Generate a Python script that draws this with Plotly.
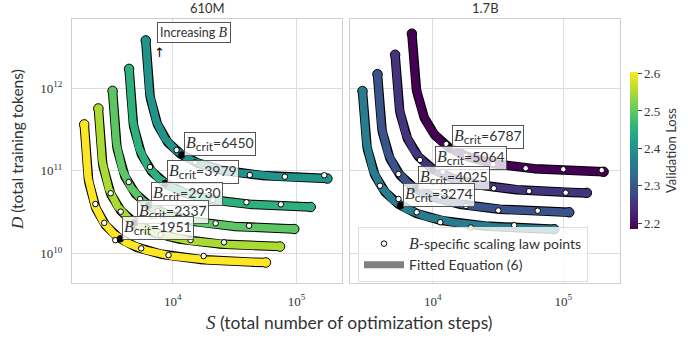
import numpy as np
import plotly.graph_objects as go
from plotly.colors import sample_colorscale

SEQ_LEN = 2048  # tokens per sequence: D = B * S * SEQ_LEN

# ---- 610M: fitted Equation (6) parameters per loss level ----
b_crit_610m = [1951, 2337, 2930, 3979, 6450]
s_min_610m = [1883, 2450, 3190, 4338, 5915]
loss_610m = [2.604, 2.550, 2.495, 2.449, 2.400]
# B-specific scaling-law points (S, D)
pts_s_610m = [
    [2366, 2790, 3428, 5546, 9230, 17740],
    [3146, 3790, 7993, 13910, 25900],
    [4399, 5443, 7516, 22180, 41290],
    [6535, 21090, 39340, 74640],
    [10715, 15080, 41830, 80380, 167400],
]
pts_d_610m = [
    [3.97e10, 2.35e10, 1.45e10, 1.155e10, 9.57e9, 9.33e9],
    [5.36e10, 3.21e10, 1.689e10, 1.457e10, 1.366e10],
    [7.34e10, 4.57e10, 3.27e10, 2.32e10, 2.17e10],
    [1.115e11, 4.44e10, 4.17e10, 3.94e10],
    [1.79e11, 1.271e11, 8.92e10, 8.51e10, 8.85e10],
]

# ---- 1.7B ----
b_crit_17b = [3274, 4025, 5064, 6787]
s_min_17b = [2840, 3700, 5050, 6785]
loss_17b = [2.361, 2.294, 2.248, 2.185]
pts_s_17b = [
    [3949, 5472, 7542, 11435, 19570, 42070],
    [5472, 11375, 17990, 31790, 63680],
    [7993, 11930, 17830, 29360, 54630, 104300],
    [12710, 17990, 28950, 51530, 100000, 196800],
]
pts_d_17b = [
    [6.62e10, 4.57e10, 3.16e10, 2.39e10, 2.065e10, 2.20e10],
    [9.17e10, 4.87e10, 3.76e10, 3.32e10, 3.30e10],
    [1.355e11, 9.78e10, 7.40e10, 6.16e10, 5.68e10, 5.45e10],
    [2.117e11, 1.515e11, 1.205e11, 1.075e11, 1.046e11, 1.02e11],
]

panel_titles = ["610M", "1.7B"]
cbar_ticks = [2.2, 2.3, 2.4, 2.5, 2.6]
x_ticks = [1e4, 1e5]
x_ticktext = ["10<sup>4</sup>", "10<sup>5</sup>"]
y_ticks = [1e10, 1e11, 1e12]
y_ticktext = ["10<sup>10</sup>", "10<sup>11</sup>", "10<sup>12</sup>"]

# range of S / S_min over which the fitted curve is drawn
R_LO, R_HI = 1.021, 30.0

all_loss = loss_610m + loss_17b
CMIN, CMAX = min(all_loss), max(all_loss)

SANS = "Lato"
SERIF = "Liberation Serif"
TXT = "#333333"


def loss_color(v):
    t = (v - CMIN) / (CMAX - CMIN)
    return sample_colorscale("Viridis", [t])[0]


def fitted_curve(s_min, b_crit):
    d_min = s_min * b_crit * SEQ_LEN
    r = np.logspace(np.log10(R_LO), np.log10(R_HI), 300)
    s = s_min * r
    d = d_min * r / (r - 1.0)
    return s, d, d_min


def ital(ch, size=None):
    sz = f";font-size:{size}px" if size else ""
    return f"<i><span style='font-family:{SERIF}{sz}'>{ch}</span></i>"


fig = go.Figure()
annotations = []

panels = [
    ("x", "y", b_crit_610m, s_min_610m, loss_610m, pts_s_610m, pts_d_610m),
    ("x2", "y2", b_crit_17b, s_min_17b, loss_17b, pts_s_17b, pts_d_17b),
]

for xa, ya, bcs, smins, losses, ps, pd_ in panels:
    curves = [fitted_curve(sm, bc) for sm, bc in zip(smins, bcs)]
    # black outline underneath each fitted curve
    for s, d, _ in curves:
        fig.add_trace(go.Scatter(x=s, y=d, mode="lines", xaxis=xa, yaxis=ya,
                                 line=dict(color="black", width=9.5),
                                 showlegend=False, hoverinfo="skip"))
    for (s, d, _), lv in zip(curves, losses):
        col = loss_color(lv)
        # rounded ends
        fig.add_trace(go.Scatter(x=[s[0], s[-1]], y=[d[0], d[-1]], mode="markers",
                                 xaxis=xa, yaxis=ya,
                                 marker=dict(color=col, size=9.5,
                                             line=dict(color="black", width=1)),
                                 showlegend=False, hoverinfo="skip"))
        fig.add_trace(go.Scatter(x=s, y=d, mode="lines", xaxis=xa, yaxis=ya,
                                 line=dict(color=col, width=7.5),
                                 showlegend=False, hoverinfo="skip"))
    # measured points
    for sx, dy in zip(ps, pd_):
        fig.add_trace(go.Scatter(x=sx, y=dy, mode="markers", xaxis=xa, yaxis=ya,
                                 marker=dict(color="white", size=5.5,
                                             line=dict(color="black", width=1)),
                                 showlegend=False, hoverinfo="skip"))
    # B_crit points at (2 S_min, 2 D_min)
    crit_s = [2 * sm for sm in smins]
    crit_d = [2 * c[2] for c in curves]
    fig.add_trace(go.Scatter(x=crit_s, y=crit_d, mode="markers", xaxis=xa, yaxis=ya,
                             marker=dict(color="black", size=6.5,
                                         line=dict(color="black", width=1)),
                             showlegend=False, hoverinfo="skip"))
    # labels, largest B first so lower ones sit on top
    order = sorted(range(len(bcs)), key=lambda i: -bcs[i])
    for i in order:
        annotations.append(dict(
            x=np.log10(crit_s[i]), y=np.log10(crit_d[i]), xref=xa, yref=ya,
            xanchor="left", yanchor="bottom", xshift=2, yshift=-1,
            text=(f"{ital('B', 16)}<sub><span style='font-size:12px'>crit</span></sub>"
                  f"={bcs[i]}"),
            showarrow=False, font=dict(family=SANS, size=14, color=TXT),
            bgcolor="rgba(255,255,255,0.8)", bordercolor="#555555", borderwidth=1,
            borderpad=1))

# legend entries
fig.add_trace(go.Scatter(x=[None], y=[None], mode="markers", xaxis="x2", yaxis="y2",
                         marker=dict(color="white", size=5.5, line=dict(color="black", width=1)),
                         name=f"{ital('B', 16)}-specific scaling law points"))
fig.add_trace(go.Scatter(x=[None], y=[None], mode="lines", xaxis="x2", yaxis="y2",
                         line=dict(color="#808080", width=7),
                         name="Fitted Equation (6)"))

# colour bar carrier
fig.add_trace(go.Scatter(
    x=[None], y=[None], mode="markers", xaxis="x2", yaxis="y2", showlegend=False,
    marker=dict(color=[CMIN], colorscale="Viridis", cmin=CMIN, cmax=CMAX, showscale=True,
                colorbar=dict(x=630 / 688, xanchor="left", xpad=0, thickness=8,
                              len=157 / 341, lenmode="fraction", y=1 - 150.5 / 341,
                              yanchor="middle", ypad=0, outlinewidth=0,
                              tickvals=cbar_ticks, ticktext=[f"{t:.1f}" for t in cbar_ticks],
                              ticks="outside", ticklen=4, tickcolor="#444",
                              tickfont=dict(family=SERIF, size=13, color=TXT),
                              title=dict(text="Validation Loss", side="right",
                                         font=dict(family=SANS, size=13, color=TXT))))))

# "Increasing B" note with arrow
annotations.append(dict(x=np.log10(7380), y=12.676, xref="x", yref="y", xanchor="left",
                        yanchor="middle", showarrow=False,
                        text=f"Increasing {ital('B', 14)}",
                        font=dict(family=SANS, size=12.5, color=TXT),
                        bgcolor="white", bordercolor="#555555", borderwidth=1, borderpad=2))
annotations.append(dict(x=np.log10(7800), y=12.43, xref="x", yref="y", showarrow=False,
                        yanchor="middle",
                        text="↑", font=dict(family="DejaVu Sans", size=13, color="black")))

# panel titles and axis titles
annotations.append(dict(x=207 / 688, y=1 - 8 / 341, xref="paper", yref="paper",
                        xanchor="center", yanchor="middle",
                        text=panel_titles[0], showarrow=False,
                        font=dict(family=SANS, size=13, color=TXT)))
annotations.append(dict(x=485 / 688, y=1 - 8 / 341, xref="paper", yref="paper",
                        xanchor="center", yanchor="middle",
                        text=panel_titles[1], showarrow=False,
                        font=dict(family=SANS, size=13, color=TXT)))
annotations.append(dict(x=349 / 688, y=1 - 322 / 341, xref="paper", yref="paper",
                        xanchor="center", yanchor="middle",
                        text=f"{ital('S', 19)} (total number of optimization steps)",
                        showarrow=False, font=dict(family=SANS, size=17.5, color=TXT)))
annotations.append(dict(x=17 / 688, y=1 - 150 / 341, xref="paper", yref="paper",
                        xanchor="center", yanchor="middle",
                        text=f"{ital('D', 17)} (total training tokens)",
                        textangle=-90, showarrow=False, font=dict(family=SANS, size=15.5, color=TXT)))

axis_common = dict(type="log", showgrid=True, gridcolor="#dcdcdc", gridwidth=1,
                   showline=True, mirror=True, linecolor="#cfcfcf", linewidth=1.3,
                   zeroline=False,
                   ticks="outside", ticklen=6, tickcolor="rgba(0,0,0,0)",
                   tickfont=dict(family=SERIF, size=13, color=TXT))

fig.update_layout(
    width=688, height=341, margin=dict(l=0, r=0, t=0, b=0),
    paper_bgcolor="white", plot_bgcolor="white",
    xaxis=dict(domain=[72 / 688, 342 / 688], range=[3.185, 5.367],
               tickvals=x_ticks, ticktext=x_ticktext, **axis_common),
    xaxis2=dict(domain=[350 / 688, 620 / 688], range=[3.367, 5.434],
                tickvals=x_ticks, ticktext=x_ticktext, **axis_common),
    yaxis=dict(domain=[1 - 283 / 341, 1 - 19 / 341], range=[9.643, 12.839],
               tickvals=y_ticks, ticktext=y_ticktext, anchor="x", **axis_common),
    yaxis2=dict(domain=[1 - 283 / 341, 1 - 19 / 341], range=[9.643, 12.839],
                tickvals=y_ticks, anchor="x2", matches="y", showticklabels=False,
                **axis_common),
    legend=dict(x=358 / 688, y=1 - 227 / 341, xanchor="left", yanchor="top",
                bgcolor="rgba(255,255,255,0.8)", bordercolor="#dddddd", borderwidth=1,
                font=dict(family=SANS, size=14, color=TXT), tracegroupgap=0,
                itemwidth=40),
    annotations=annotations,
    showlegend=True,
)

fig.write_html("out.html")
